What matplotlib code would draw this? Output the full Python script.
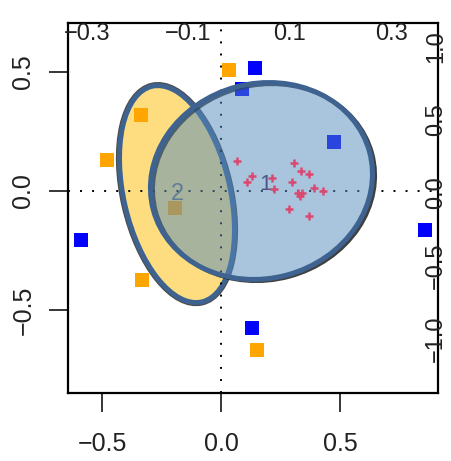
import matplotlib
matplotlib.use('Agg')
import matplotlib.pyplot as plt
import matplotlib.transforms as mtransforms
from matplotlib.patches import Ellipse

plt.rcParams['font.family'] = ['Liberation Sans', 'DejaVu Sans']

# group scores (bottom / left axes)
orange_x = [0.034, -0.336, -0.477, -0.193, -0.332, 0.151]
orange_y = [0.508, 0.319, 0.130, -0.071, -0.374, -0.668]
blue_x = [0.141, 0.088, 0.477, -0.588, 0.857, 0.130]
blue_y = [0.515, 0.429, 0.204, -0.206, -0.166, -0.576]

# variable loadings (top / right axes)
var_x = [-0.005, 0.025, 0.015, 0.064, 0.068, 0.109, 0.122, 0.138, 0.104,
         0.147, 0.166, 0.117, 0.120, 0.124, 0.099, 0.137]
var_y = [0.219, 0.116, 0.077, 0.101, 0.025, 0.203, 0.151, 0.130, 0.077,
         0.032, 0.014, 0.002, -0.021, 0.000, -0.112, -0.158]

# group ellipses: label, centre, width, height, angle
groups = ['1', '2']
ell_center = [(0.170, 0.042), (-0.185, -0.013)]
ell_width = [0.941, 0.930]
ell_height = [0.819, 0.447]
ell_angle = [15, 103]

bottom_ticks = [-0.5, 0.0, 0.5]
left_ticks = [-0.5, 0.0, 0.5]
top_ticks = [-0.3, -0.1, 0.1, 0.3]
right_ticks = [-1.0, -0.5, 0.0, 0.5, 1.0]

edge_col = '#3e6391'
txt_col = '#222222'

fig = plt.figure(figsize=(4.52, 4.61), dpi=100)
pos = [68 / 452, 1 - 393 / 461, 370 / 452, 370 / 461]
ax = fig.add_axes(pos)
ax.set_xlim(-0.643, 0.912)
ax.set_ylim(-0.849, 0.706)

# yellow ellipse (group 2) with dark halo
yel_halo = Ellipse(ell_center[1], ell_width[1], ell_height[1], angle=ell_angle[1],
                   fill=False, edgecolor='black', lw=5.2, alpha=0.7, zorder=1)
ax.add_patch(yel_halo)
yel = Ellipse(ell_center[1], ell_width[1], ell_height[1], angle=ell_angle[1],
              facecolor='#fedd80', edgecolor=edge_col, lw=3.6, zorder=1.5)
ax.add_patch(yel)

ax.axhline(0, color='black', lw=1.4, ls=(0, (1, 5.2)), zorder=2)
ax.axvline(0, color='black', lw=1.4, ls=(0, (1, 5.2)), zorder=2)

ax.plot(orange_x, orange_y, 's', color='#ffa500', ms=10.5, mew=0, zorder=3)
ax.plot(blue_x, blue_y, 's', color='#0000ff', ms=10.5, mew=0, zorder=3)

ax.text(ell_center[1][0], ell_center[1][1], groups[1], fontsize=17,
        color='#707070', ha='center', va='center', zorder=3)

# blue ellipse (group 1) with offset shadow
shadow_tr = ax.transData + mtransforms.ScaledTranslation(2.5 / 100, -1.5 / 100,
                                                         fig.dpi_scale_trans)
blue_shadow = Ellipse(ell_center[0], ell_width[0], ell_height[0], angle=ell_angle[0],
                      fill=False, edgecolor='black', lw=3, alpha=0.75, zorder=3.9,
                      transform=shadow_tr)
ax.add_patch(blue_shadow)
blue = Ellipse(ell_center[0], ell_width[0], ell_height[0], angle=ell_angle[0],
               facecolor=(0.33, 0.54, 0.74, 0.5), edgecolor=edge_col, lw=3.6,
               zorder=4)
ax.add_patch(blue)

ax.text(ell_center[0][0] + 0.019, ell_center[0][1] - 0.013, groups[0],
        fontsize=16, color='#4a5888', ha='center', va='center', zorder=5)

ax.set_xticks(bottom_ticks)
ax.set_xticklabels(['\u22120.5', '0.0', '0.5'])
ax.set_yticks(left_ticks)
ax.set_yticklabels(['\u22120.5', '0.0', '0.5'], rotation=90, va='center')
ax.tick_params(direction='out', length=13.5, width=1.1, labelsize=18,
               labelcolor=txt_col)
ax.tick_params(axis='x', pad=14.5)
ax.tick_params(axis='y', pad=10)
for s in ax.spines.values():
    s.set_linewidth(1.6)

# secondary axes for the loadings, labels drawn inside the box
ax2 = fig.add_axes(pos, frameon=False)
ax2.set_xlim(-0.337, 0.392)
ax2.set_ylim(-1.370, 1.164)
ax2.plot(var_x, var_y, '+', color='#d94a72', ms=6, mew=1.8, zorder=6)
ax2.xaxis.tick_top()
ax2.yaxis.tick_right()
ax2.set_xticks(top_ticks)
ax2.set_xticklabels(['\u22120.3', '\u22120.1', '0.1', '0.3'])
ax2.set_yticks(right_ticks)
ax2.set_yticklabels(['\u22121.0', '\u22120.5', '0.0', '0.5', '1.0'],
                    rotation=90, va='center')
ax2.tick_params(length=0, labelsize=17, labelcolor=txt_col)
ax2.tick_params(axis='x', pad=-15.5)
ax2.tick_params(axis='y', pad=-9.5)
ax2.patch.set_visible(False)

fig.savefig('out.png', dpi=100)
